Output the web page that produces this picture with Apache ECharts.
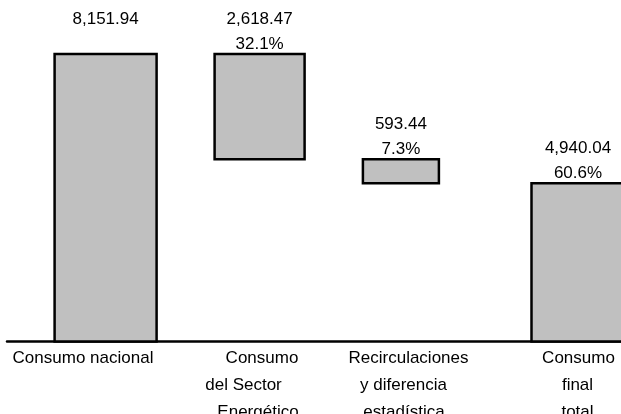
<!DOCTYPE html>
<html>
<head>
<meta charset="utf-8">
<script src="https://cdn.jsdelivr.net/npm/echarts@6/dist/echarts.min.js"></script>
<style>
html,body{margin:0;padding:0;background:#fff;}
#chart{width:621px;height:414px;}
</style>
</head>
<body>
<div id="chart"></div>
<script>
// ---- data ----
const categories = ['Consumo nacional', 'Consumo\ndel Sector\nEnergético', 'Recirculaciones\ny diferencia\nestadística', 'Consumo\nfinal\ntotal'];
const values = [8151.94, 2618.47, 593.44, 4940.04];
const kinds = ['total', 'decrease', 'decrease', 'total'];
const shares = ['', '32.1%', '7.3%', '60.6%'];

// ---- layout / style (not data) ----
const FONT = 'Liberation Sans, Arial, sans-serif';
const FS = 17;
const yMin = 1000, yMax = 9000;
const barShift = [16.6, 6.6, -16.1, -3];     // px shift of each bar from its category centre
const barWidthPx = [102, 90, 76, 93];
const labelShifts = [[-6], [9, -9.5, 5], [-8.5, -13.5, -13], [-2.5, -3.5, -3.5]];

// waterfall ranges built from the values
const ranges = [];
let running = 0;
values.forEach((v, i) => {
  if (kinds[i] === 'total') { ranges.push([i, 0, v]); running = v; }
  else { ranges.push([i, running - v, running]); running -= v; }
});
const fmt = v => v.toLocaleString('en-US', {minimumFractionDigits: 2, maximumFractionDigits: 2});

// rich styles for axis labels
const rich = {};
labelShifts.forEach((arr, ci) => arr.forEach((s, li) => {
  rich['c' + ci + 'l' + li] = {
    fontFamily: FONT, fontSize: FS, color: '#000', lineHeight: 27,
    padding: s >= 0 ? [0, 0, 0, 2 * s] : [0, -2 * s, 0, 0]
  };
}));

const chart = echarts.init(document.getElementById('chart'), null, {renderer: 'canvas'});
chart.setOption({
  animation: false,
  grid: {left: 7, width: 656, top: 20, bottom: 72.5, containLabel: false, outerBoundsMode: 'none'},
  xAxis: {
    type: 'category',
    data: categories,
    axisLine: {show: true, lineStyle: {color: '#000', width: 2.5}},
    axisTick: {show: false},
    splitLine: {show: false},
    axisLabel: {
      interval: 0,
      margin: 3,
      hideOverlap: false,
      formatter: (val, idx) => val.split('\n').map((t, li) => '{c' + idx + 'l' + li + '|' + t + '}').join('\n'),
      rich: rich
    }
  },
  yAxis: {type: 'value', min: yMin, max: yMax, show: false, splitLine: {show: false}},
  series: [{
    type: 'custom',
    data: ranges,
    encode: {x: 0, y: [1, 2]},
    clip: false,
    renderItem: (params, api) => {
      const i = api.value(0);
      const lo = Math.max(api.value(1), yMin);
      const top = api.coord([i, api.value(2)]);
      const bot = api.coord([i, lo]);
      const cx = top[0] + barShift[i];
      const w = barWidthPx[i];
      return {
        type: 'rect',
        shape: {x: cx - w / 2, y: top[1], width: w, height: bot[1] - top[1]},
        style: {fill: '#c0c0c0', stroke: '#000', lineWidth: 2.5},
        textContent: {
          style: {
            text: fmt(values[i]) + '\n' + shares[i],
            fill: '#000', fontFamily: FONT, fontSize: FS, lineHeight: 25.5
          }
        },
        textConfig: {position: 'top', distance: -4.5}
      };
    }
  }]
});
</script>
</body>
</html>
